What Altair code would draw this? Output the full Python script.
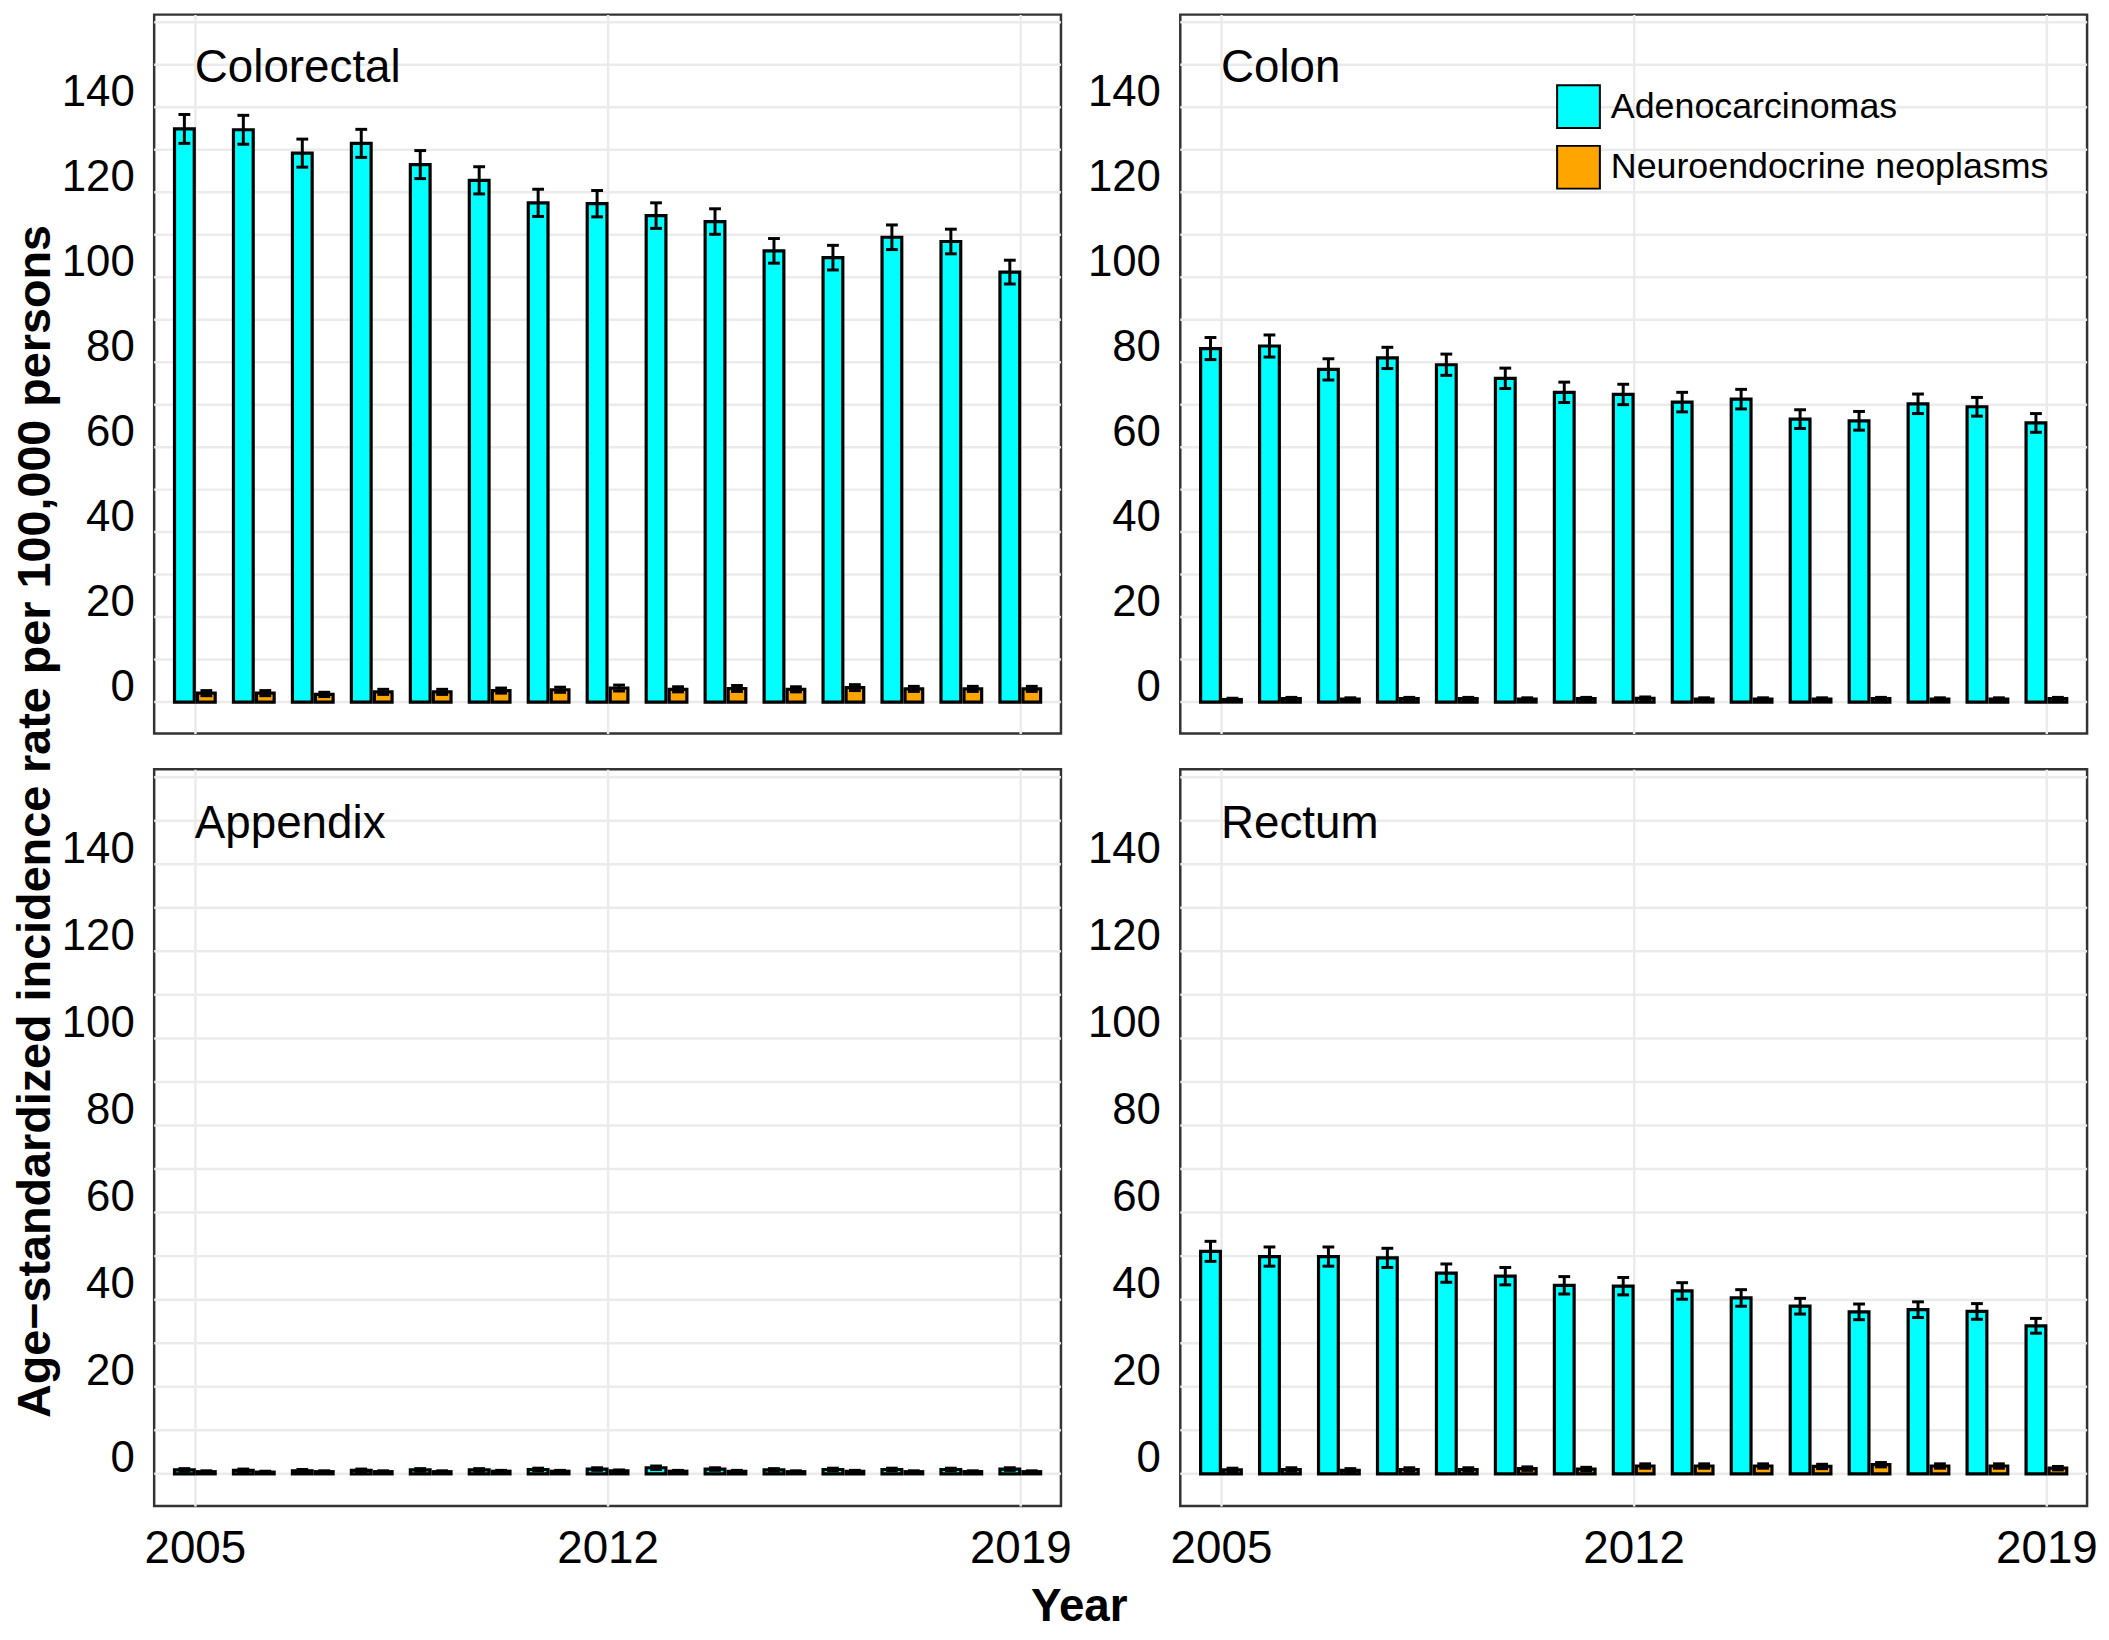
import altair as alt
import pandas as pd

years = list(range(2005, 2020))
types = ["Adenocarcinomas", "Neuroendocrine neoplasms"]
sites = ["Colorectal", "Colon", "Appendix", "Rectum"]
x_tick_labels = [2005, 2012, 2019]
y_tick_labels = [0, 20, 40, 60, 80, 100, 120, 140]
y_grid_values = [0, 10, 20, 30, 40, 50, 60, 70, 80, 90, 100, 110, 120, 130, 140, 150, 160]

colorectal_adeno = [134.9, 134.7, 129.2, 131.5, 126.5, 122.8, 117.5, 117.3, 114.5, 113.1, 106.2, 104.6, 109.4, 108.4, 101.2]
colorectal_adeno_ci = [3.4, 3.4, 3.3, 3.3, 3.3, 3.2, 3.2, 3.1, 3.0, 3.0, 2.9, 2.9, 2.9, 2.9, 2.8]
colorectal_nen = [2.1, 2.1, 1.8, 2.4, 2.4, 2.7, 2.9, 3.3, 3.0, 3.2, 3.0, 3.4, 3.1, 3.1, 3.1]
colorectal_nen_ci = [0.6, 0.6, 0.5, 0.6, 0.6, 0.6, 0.6, 0.7, 0.6, 0.7, 0.6, 0.7, 0.6, 0.6, 0.6]

colon_adeno = [83.2, 83.8, 78.3, 81.0, 79.4, 76.2, 72.9, 72.4, 70.6, 71.3, 66.6, 66.2, 70.2, 69.5, 65.7]
colon_adeno_ci = [2.6, 2.6, 2.5, 2.5, 2.5, 2.4, 2.4, 2.4, 2.3, 2.3, 2.2, 2.2, 2.3, 2.2, 2.2]
colon_nen = [0.6, 0.8, 0.7, 0.8, 0.8, 0.7, 0.8, 0.9, 0.7, 0.7, 0.7, 0.8, 0.7, 0.7, 0.8]
colon_nen_ci = [0.3, 0.3, 0.3, 0.3, 0.3, 0.3, 0.3, 0.3, 0.3, 0.3, 0.3, 0.3, 0.3, 0.3, 0.3]

appendix_adeno = [0.9, 0.8, 0.7, 0.8, 0.9, 0.9, 1.0, 1.1, 1.4, 1.1, 0.9, 1.0, 1.0, 1.0, 1.1]
appendix_adeno_ci = [0.3, 0.3, 0.3, 0.3, 0.3, 0.3, 0.3, 0.3, 0.4, 0.3, 0.3, 0.3, 0.3, 0.3, 0.3]
appendix_nen = [0.5, 0.4, 0.5, 0.5, 0.5, 0.6, 0.6, 0.7, 0.6, 0.6, 0.5, 0.6, 0.5, 0.5, 0.5]
appendix_nen_ci = [0.2, 0.2, 0.2, 0.2, 0.2, 0.2, 0.2, 0.2, 0.2, 0.2, 0.2, 0.2, 0.2, 0.2, 0.2]

rectum_adeno = [51.1, 49.9, 49.9, 49.6, 46.1, 45.4, 43.3, 43.1, 42.0, 40.4, 38.5, 37.2, 37.7, 37.3, 34.0]
rectum_adeno_ci = [2.3, 2.2, 2.2, 2.2, 2.1, 2.0, 2.0, 2.0, 1.9, 1.9, 1.8, 1.8, 1.8, 1.8, 1.7]
rectum_nen = [0.9, 1.0, 0.8, 1.0, 1.0, 1.2, 1.1, 1.8, 1.8, 1.8, 1.7, 2.1, 1.8, 1.8, 1.3]
rectum_nen_ci = [0.4, 0.4, 0.4, 0.4, 0.4, 0.4, 0.4, 0.5, 0.5, 0.5, 0.5, 0.5, 0.5, 0.5, 0.4]

series = {
    ("Colorectal", types[0]): (colorectal_adeno, colorectal_adeno_ci),
    ("Colorectal", types[1]): (colorectal_nen, colorectal_nen_ci),
    ("Colon", types[0]): (colon_adeno, colon_adeno_ci),
    ("Colon", types[1]): (colon_nen, colon_nen_ci),
    ("Appendix", types[0]): (appendix_adeno, appendix_adeno_ci),
    ("Appendix", types[1]): (appendix_nen, appendix_nen_ci),
    ("Rectum", types[0]): (rectum_adeno, rectum_adeno_ci),
    ("Rectum", types[1]): (rectum_nen, rectum_nen_ci),
}

# dodge geometry (in years) for the two bar types
dodge = {types[0]: (-0.345, -0.01), types[1]: (0.045, 0.345)}
cap_half = 0.1

rows = []
for (site, typ), (vals, cis) in series.items():
    a, b = dodge[typ]
    for yr, v, c in zip(years, vals, cis):
        xc = yr + (a + b) / 2
        rows.append(dict(site=site, type=typ, year=yr, value=v,
                         lo=v - c, hi=v + c, x0=yr + a, x1=yr + b,
                         xc=xc, cl=xc - cap_half, cr=xc + cap_half))
df = pd.DataFrame(rows)
grid_df = pd.DataFrame({"g": y_grid_values})

FONT = "Liberation Sans"
x_scale = alt.Scale(domain=[2004.31, 2019.69], nice=False, zero=False)
y_scale = alt.Scale(domain=[-7.4, 161.8], nice=False, zero=False)


def panel(site, bottom, height, show_legend=False):
    d = df[df.site == site]
    x_axis = alt.Axis(values=x_tick_labels, format="d", grid=True, labels=bottom,
                      ticks=False, tickSize=0, domain=False, title=None,
                      labelFontSize=46, labelPadding=21, labelFlush=False,
                      labelOverlap=False, labelColor="black", labelFont=FONT)
    y_axis = alt.Axis(values=y_tick_labels, grid=False, ticks=False, tickSize=0,
                      domain=False, title=None,
                      labelFontSize=44, labelPadding=20, labelOffset=-15,
                      labelOverlap=False, labelColor="black", labelFont=FONT)
    if show_legend:
        legend = alt.Legend(title=None, orient="none", legendX=378, legendY=70,
                            symbolType="square", symbolSize=1849,
                            symbolStrokeColor="black", symbolStrokeWidth=2,
                            symbolOpacity=1, labelFontSize=36, labelFont=FONT,
                            labelColor="black", labelOffset=10, rowPadding=10,
                            padding=0, labelLimit=600)
    else:
        legend = None
    color = alt.Color("type:N", scale=alt.Scale(domain=types, range=["#00FFFF", "#FFA500"]),
                      legend=legend)
    gridlines = alt.Chart(grid_df).mark_rule(color="#EBEBEB", strokeWidth=2.5).encode(
        y=alt.Y("g:Q", scale=y_scale, axis=y_axis))
    base = alt.Chart(d)
    bars = base.mark_rect(stroke="black", strokeWidth=3.2).encode(
        x=alt.X("x0:Q", scale=x_scale, axis=x_axis),
        x2="x1:Q",
        y=alt.Y("value:Q", scale=y_scale),
        y2=alt.datum(0),
        color=color,
    )
    stems = base.mark_rule(color="black", strokeWidth=3).encode(
        x="xc:Q", y="lo:Q", y2="hi:Q")
    caps_lo = base.mark_rule(color="black", strokeWidth=3).encode(
        x="cl:Q", x2="cr:Q", y="lo:Q")
    caps_hi = base.mark_rule(color="black", strokeWidth=3).encode(
        x="cl:Q", x2="cr:Q", y="hi:Q")
    label = alt.Chart(pd.DataFrame({"t": [site]})).mark_text(
        align="left", baseline="alphabetic", fontSize=46, font=FONT, color="black"
    ).encode(x=alt.datum(2005), y=alt.datum(146), text="t:N")
    return alt.layer(gridlines, bars, stems, caps_lo, caps_hi, label).properties(
        width=912, height=height)


grid = alt.concat(
    panel("Colorectal", False, 723),
    panel("Colon", False, 723, show_legend=True),
    panel("Appendix", True, 741),
    panel("Rectum", True, 741),
    columns=2, spacing={"row": 36, "column": 120}, bounds="flush",
    title=alt.TitleParams(text="Year", orient="bottom", anchor="middle", fontSize=46,
                          fontWeight="bold", font=FONT, color="black", offset=12),
).resolve_scale(color="independent")

chart = alt.hconcat(
    grid,
    title=alt.TitleParams(text="Age\u2212standardized incidence rate per 100,000 persons",
                          orient="left", anchor="middle", fontSize=47, fontWeight="bold",
                          font=FONT, color="black", offset=0),
).resolve_scale(color="independent").properties(
    padding={"left": 4, "top": 0, "right": 2, "bottom": 0}
).configure(font=FONT).configure_view(
    stroke="#333333", strokeWidth=2.5
).configure_axis(
    gridColor="#EBEBEB", gridWidth=2.5
)

chart.save("out.html", embed_options={"renderer": "svg", "actions": False})
